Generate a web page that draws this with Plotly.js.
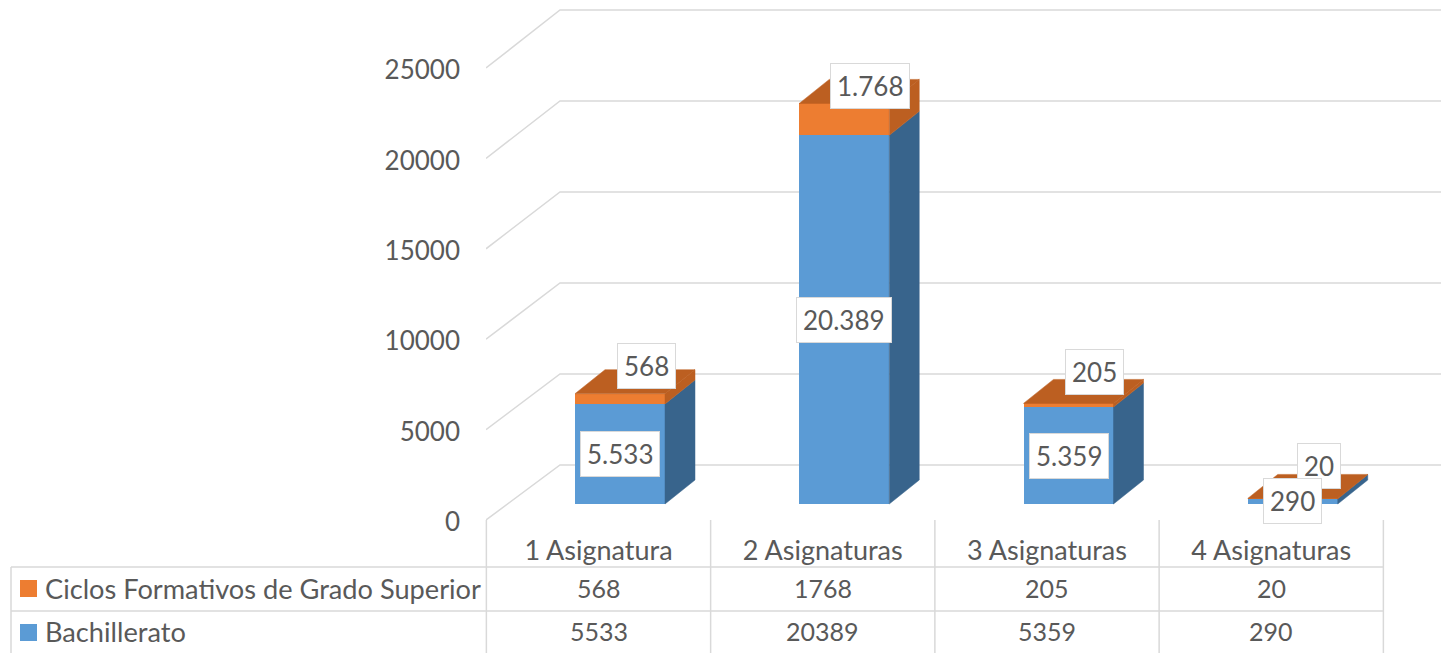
<!DOCTYPE html>
<html>
<head>
<meta charset="utf-8">
<script src="https://cdn.plot.ly/plotly-3.0.1.min.js"></script>
<style>
  html, body { margin: 0; padding: 0; background: #fff; overflow: hidden; }
  #chart { width: 1441px; height: 653px; }
</style>
</head>
<body>
<div id="chart"></div>
<script>
const categories = ['1 Asignatura', '2 Asignaturas', '3 Asignaturas', '4 Asignaturas'];
const bachillerato = [5533, 20389, 5359, 290];
const ciclos = [568, 1768, 205, 20];
const yTicks = [0, 5000, 10000, 15000, 20000, 25000];
const serieCiclos = 'Ciclos Formativos de Grado Superior';
const serieBachillerato = 'Bachillerato';

const azul = '#5B9BD5', azulLado = '#38648C';
const naranja = '#ED7D31', naranjaLado = '#BC5F21';
const gris = '#D9D9D9', texto = '#595959';
const fuente = 'Lato, "Open Sans", sans-serif';

// Page geometry of the plot area and the table under it
const W = 1441, H = 653, plotLeft = 486, plotBottom = 520;
const pxX = 224.25;      // pixels per category
const pxY = 452 / 25000; // pixels per unit
const x0px = 598.5;      // first category centre

const xRange = [(plotLeft - x0px) / pxX, (W - x0px) / pxX];
const yRange = [0, plotBottom / pxY];
const paperX = px => (px - plotLeft) / (W - plotLeft);
const paperY = py => (plotBottom - py) / plotBottom;

// Fake 3D: depth offsets in axis units
const wallDx = 74 / pxX, wallDy = 55 / pxY;
const wallScale = 91 / 90.4; // the back wall is a bit taller than the front scale
const barDx = 30 / pxX, barDy = 24 / pxY;
const frontDx = 21.5 / pxX, frontDy = 16 / pxY;
const barW = 90 / pxX;

const fmt = v => String(v).replace(/\B(?=(\d{3})+$)/g, '.');
const xs = categories.map((c, i) => i + frontDx);
const tops = bachillerato.map((v, i) => frontDy + v);

// Side and top faces of the columns
function cara(xPts, yPts, color) {
    return {
        x: xPts, y: yPts, type: 'scatter', mode: 'lines', fill: 'toself',
        fillcolor: color, line: { color: color, width: 0.5 },
        hoverinfo: 'skip', showlegend: false
    };
}

const traces = [
    { x: xs, y: bachillerato, base: bachillerato.map(() => frontDy), type: 'bar', width: barW, marker: { color: azul }, name: serieBachillerato, showlegend: false },
    { x: xs, y: ciclos, base: tops, type: 'bar', width: barW, marker: { color: naranja }, name: serieCiclos, showlegend: false }
];

categories.forEach((c, i) => {
    const r = xs[i] + barW / 2, l = xs[i] - barW / 2;
    const y1 = tops[i], y2 = tops[i] + ciclos[i];
    traces.push(cara([r, r + barDx, r + barDx, r, r], [frontDy, frontDy + barDy, y1 + barDy, y1, frontDy], azulLado));
    traces.push(cara([r, r + barDx, r + barDx, r, r], [y1, y1 + barDy, y2 + barDy, y2, y1], naranjaLado));
    traces.push(cara([l, r, r + barDx, l + barDx, l], [y2, y2, y2 + barDy, y2 + barDy, y2], naranjaLado));
});

// Gridlines: from the front edge, back to the wall, then along it
const shapes = yTicks.map(t => ({
    type: 'path', layer: 'below', xref: 'x', yref: 'y',
    path: `M ${xRange[0]},${t} L ${xRange[0] + wallDx},${t * wallScale + wallDy} L ${xRange[1]},${t * wallScale + wallDy}`,
    line: { color: gris, width: 1.5 }
}));

function lineaTabla(x0, y0, x1, y1) {
    return {
        type: 'line', xref: 'paper', yref: 'paper',
        x0: paperX(x0), y0: paperY(y0), x1: paperX(x1), y1: paperY(y1),
        line: { color: gris, width: 1.5 }
    };
}
function cuadro(x0, y0, color) {
    return {
        type: 'rect', xref: 'paper', yref: 'paper',
        x0: paperX(x0), y0: paperY(y0), x1: paperX(x0 + 17), y1: paperY(y0 + 17),
        fillcolor: color, line: { width: 0 }
    };
}

const tablaTop = 567, tablaMid = 611, tablaLeft = 11, fila1 = 588, fila2 = 631;
shapes.push(lineaTabla(tablaLeft, tablaTop, x0px + 3.5 * pxX, tablaTop));
shapes.push(lineaTabla(tablaLeft, tablaMid, x0px + 3.5 * pxX, tablaMid));
shapes.push(lineaTabla(tablaLeft, tablaTop, tablaLeft, H));
categories.concat('').forEach((c, i) => {
    const px = x0px + (i - 0.5) * pxX;
    shapes.push(lineaTabla(px, plotBottom, px, H));
});
shapes.push(cuadro(20, 580, naranja));
shapes.push(cuadro(20, 624, azul));

const annotations = [];

function textoTabla(txt, xPx, yPx, anchor, size) {
    annotations.push({
        text: txt, xref: 'paper', yref: 'paper', x: paperX(xPx), y: paperY(yPx),
        xanchor: anchor, yanchor: 'middle', showarrow: false,
        font: { family: fuente, size: size, color: texto }
    });
}
textoTabla(serieCiclos, 43, fila1, 'left', 27.2);
textoTabla(serieBachillerato, 43, fila2, 'left', 27.2);
categories.forEach((c, i) => {
    textoTabla(String(ciclos[i]), x0px + i * pxX, fila1, 'center', 25);
    textoTabla(String(bachillerato[i]), x0px + i * pxX, fila2, 'center', 25);
});

// Data labels, orange ones first so the blue ones sit on top
function etiqueta(v, x, y) {
    annotations.push({
        text: fmt(v), x: x, y: y, xref: 'x', yref: 'y',
        xanchor: 'center', yanchor: 'middle', showarrow: false,
        bgcolor: '#FFFFFF', bordercolor: gris, borderwidth: 1, borderpad: 6,
        font: { family: fuente, size: 26, color: texto }
    });
}
categories.forEach((c, i) => etiqueta(ciclos[i], xs[i] + 26 / pxX, tops[i] + ciclos[i] / 2 + 33 / pxY));
categories.forEach((c, i) => etiqueta(bachillerato[i], xs[i], frontDy + bachillerato[i] / 2));

const layout = {
    width: W, height: H,
    margin: { l: plotLeft, r: 0, t: 0, b: H - plotBottom, pad: 0 },
    paper_bgcolor: '#FFFFFF', plot_bgcolor: '#FFFFFF',
    showlegend: false,
    bargap: 0,
    barmode: 'overlay',
    font: { family: fuente, color: texto },
    xaxis: {
        range: xRange, tickmode: 'array', tickvals: categories.map((c, i) => i), ticktext: categories,
        showgrid: false, zeroline: false, showline: false, ticks: '',
        ticklabelstandoff: 12, tickfont: { family: fuente, size: 27, color: texto }
    },
    yaxis: {
        range: yRange, tickmode: 'array', tickvals: yTicks, ticktext: yTicks.map(String),
        showgrid: false, zeroline: false, showline: false, ticks: '',
        ticklabelstandoff: 25, ticklabelshift: 2, tickfont: { family: fuente, size: 26, color: texto }
    },
    shapes: shapes,
    annotations: annotations
};

Plotly.newPlot('chart', traces, layout, { displayModeBar: false, staticPlot: true });
</script>
</body>
</html>
